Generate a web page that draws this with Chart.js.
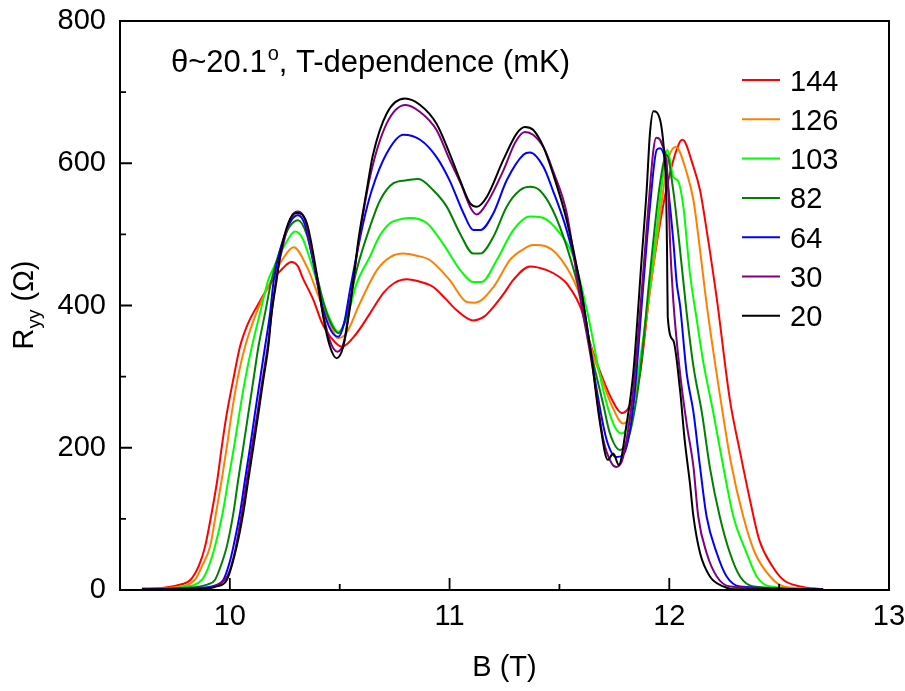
<!DOCTYPE html>
<html><head><meta charset="utf-8">
<script src="https://cdn.jsdelivr.net/npm/chart.js@4.4.1/dist/chart.umd.min.js"></script>
<style>html,body{margin:0;padding:0;background:#fff;}#wrap{width:905px;height:691px;}</style>
</head><body><div id="wrap"><canvas id="c" width="905" height="691"></canvas></div>
<script>
// ---- data (B in T, Ryy in ohm) ----
const temps = ['144','126','103','82','64','30','20'];
const colors = ['#ff0000','#ff8000','#00ff00','#008000','#0000ff','#800080','#000000'];
const xTicks = [10, 11, 12, 13];
const xMinorTicks = [10.5, 11.5, 12.5];
const yTicks = [0, 200, 400, 600, 800];
const yMinorTicks = [100, 300, 500, 700];

const t144 = [[9.60,2],[9.70,3],[9.78,8],[9.82,14],[9.86,35],[9.887,61],[9.917,108],[9.943,155],[9.963,201],[9.986,248],[10.015,295],[10.046,342],[10.083,375],[10.122,398],[10.196,436],[10.24,452],[10.28,461],[10.31,455],[10.33,440],[10.38,408],[10.42,375],[10.46,355],[10.51,342],[10.577,361],[10.638,389],[10.70,418],[10.75,432],[10.805,437],[10.87,433],[10.926,426],[10.98,410],[11.03,394],[11.108,379],[11.16,385],[11.20,398],[11.25,418],[11.29,436],[11.366,455],[11.44,450],[11.50,440],[11.533,431],[11.60,394],[11.64,347],[11.70,295],[11.74,267],[11.783,249],[11.814,256],[11.867,305],[11.912,422],[11.958,516],[12.003,586],[12.048,630],[12.06,633],[12.11,595],[12.14,562],[12.17,506],[12.216,410],[12.276,267],[12.32,197],[12.367,127],[12.41,70],[12.47,33],[12.52,14],[12.595,5],[12.70,1]];
const t126 = [[9.60,1],[9.75,4],[9.84,14],[9.875,35],[9.91,61],[9.937,108],[9.963,155],[9.986,201],[10.008,248],[10.034,295],[10.069,342],[10.12,389],[10.19,436],[10.24,465],[10.29,482],[10.35,455],[10.41,408],[10.456,375],[10.49,354],[10.53,361],[10.59,402],[10.67,450],[10.73,468],[10.79,473],[10.85,470],[10.91,464],[11.0,436],[11.078,405],[11.116,404],[11.2,426],[11.275,464],[11.33,478],[11.38,485],[11.44,483],[11.53,455],[11.594,412],[11.64,345],[11.70,290],[11.74,258],[11.79,234],[11.82,244],[11.86,300],[11.897,384],[11.943,492],[11.995,605],[12.03,623],[12.08,586],[12.11,548],[12.14,478],[12.17,402],[12.23,275],[12.28,180],[12.337,103],[12.39,52],[12.459,19],[12.52,5],[12.70,1]];
const t103 = [[9.60,1],[9.78,4],[9.872,14],[9.90,30],[9.932,61],[9.967,108],[9.993,155],[10.019,201],[10.043,248],[10.069,295],[10.10,342],[10.137,389],[10.175,436],[10.198,452],[10.25,485],[10.297,504],[10.33,495],[10.37,460],[10.41,420],[10.45,385],[10.494,363],[10.53,380],[10.577,431],[10.638,469],[10.68,497],[10.73,516],[10.76,520],[10.82,523],[10.896,516],[10.97,487],[11.048,450],[11.108,433],[11.146,433],[11.215,464],[11.29,506],[11.366,525],[11.427,523],[11.503,501],[11.563,469],[11.624,395],[11.70,280],[11.745,234],[11.783,220],[11.82,239],[11.85,290],[11.88,351],[11.928,469],[11.973,586],[11.991,619],[12.018,581],[12.04,575],[12.064,539],[12.094,445],[12.125,380],[12.155,320],[12.20,250],[12.246,173],[12.292,103],[12.352,52],[12.398,19],[12.459,5],[12.70,1]];
const t82 = [[9.60,1],[9.80,3],[9.90,8],[9.932,14],[9.96,35],[9.986,61],[10.016,108],[10.038,155],[10.061,201],[10.084,248],[10.107,295],[10.13,342],[10.16,389],[10.19,436],[10.23,480],[10.27,510],[10.31,520],[10.35,500],[10.39,450],[10.43,400],[10.46,375],[10.494,361],[10.53,385],[10.577,450],[10.638,511],[10.684,548],[10.745,572],[10.805,576],[10.858,578],[10.926,562],[10.987,539],[11.048,501],[11.108,473],[11.139,473],[11.20,497],[11.26,539],[11.32,562],[11.366,567],[11.41,562],[11.47,534],[11.533,483],[11.594,415],[11.64,340],[11.70,260],[11.73,220],[11.776,197],[11.82,220],[11.867,305],[11.912,445],[11.958,572],[11.988,612],[12.018,562],[12.049,478],[12.079,390],[12.11,314],[12.148,250],[12.186,170],[12.23,103],[12.276,52],[12.322,19],[12.383,5],[12.70,1]];
const t64 = [[9.60,1],[9.85,3],[9.93,6],[9.97,14],[10.0,40],[10.016,61],[10.046,108],[10.069,155],[10.092,201],[10.114,248],[10.137,295],[10.16,342],[10.183,389],[10.20,436],[10.24,490],[10.28,520],[10.31,527],[10.34,515],[10.38,460],[10.42,400],[10.46,365],[10.494,356],[10.52,375],[10.547,422],[10.607,516],[10.646,562],[10.714,614],[10.79,640],[10.866,633],[10.94,609],[11.0,576],[11.063,530],[11.108,506],[11.14,506],[11.20,530],[11.26,576],[11.336,612],[11.366,615],[11.427,595],[11.47,562],[11.533,506],[11.594,430],[11.67,281],[11.715,211],[11.76,187],[11.79,190],[11.836,258],[11.88,422],[11.912,539],[11.943,619],[11.958,621],[11.98,605],[11.996,562],[12.018,492],[12.034,431],[12.049,400],[12.079,305],[12.11,250],[12.14,173],[12.17,103],[12.216,52],[12.261,19],[12.322,5],[12.70,1]];
const t30 = [[9.60,1],[9.85,2],[9.92,4],[9.96,10],[9.99,20],[10.02,50],[10.05,100],[10.075,150],[10.10,200],[10.125,248],[10.148,295],[10.172,342],[10.19,389],[10.21,436],[10.25,495],[10.28,525],[10.31,532],[10.34,522],[10.38,465],[10.42,395],[10.456,350],[10.49,335],[10.52,350],[10.55,410],[10.59,497],[10.638,581],[10.714,656],[10.80,682],[10.866,672],[10.94,647],[11.0,605],[11.05,572],[11.10,535],[11.124,528],[11.17,544],[11.245,590],[11.30,630],[11.343,644],[11.38,640],[11.43,621],[11.47,590],[11.533,530],[11.594,412],[11.655,305],[11.70,211],[11.738,178],[11.76,173],[11.79,187],[11.836,281],[11.875,422],[11.905,539],[11.928,619],[11.94,636],[11.965,628],[11.996,562],[12.003,492],[12.018,408],[12.049,305],[12.079,234],[12.11,173],[12.132,103],[12.17,52],[12.216,19],[12.276,5],[12.70,1]];
const t20 = [[9.60,1],[9.85,1],[9.90,2],[9.94,5],[9.986,14],[10.031,61],[10.061,108],[10.084,155],[10.107,201],[10.13,248],[10.152,295],[10.175,342],[10.19,389],[10.213,436],[10.228,469],[10.266,516],[10.304,530],[10.35,516],[10.395,445],[10.425,384],[10.456,342],[10.486,326],[10.516,342],[10.547,398],[10.585,492],[10.623,562],[10.65,610],[10.714,670],[10.797,691],[10.866,682],[10.94,656],[11.0,614],[11.048,576],[11.093,544],[11.124,539],[11.17,553],[11.245,605],[11.306,642],[11.343,651],[11.38,647],[11.427,623],[11.47,586],[11.533,520],[11.594,430],[11.64,340],[11.685,234],[11.72,183],[11.745,192],[11.77,176],[11.806,234],[11.836,305],[11.875,469],[11.897,562],[11.912,642],[11.928,673],[11.958,661],[11.978,609],[11.986,560],[11.99,470],[11.993,384],[12.018,351],[12.049,281],[12.07,211],[12.094,150],[12.11,103],[12.14,52],[12.185,19],[12.246,5],[12.30,1],[12.70,1]];

const series = [t144, t126, t103, t82, t64, t30, t20];

const FONT = '"Liberation Sans", Arial, sans-serif';
Chart.defaults.font.family = FONT;
Chart.defaults.color = '#000';

const decor = {
  id: 'decor',
  afterDraw(chart) {
    const {ctx, chartArea: a, scales: {x, y}} = chart;
    ctx.save();
    // frame
    ctx.strokeStyle = '#000';
    ctx.lineWidth = 2;
    ctx.strokeRect(a.left, a.top, a.right - a.left, a.bottom - a.top);
    // inward ticks
    ctx.lineWidth = 1.8;
    ctx.beginPath();
    xTicks.forEach(v => { const p = x.getPixelForValue(v); ctx.moveTo(p, a.bottom); ctx.lineTo(p, a.bottom - 12); });
    xMinorTicks.forEach(v => { const p = x.getPixelForValue(v); ctx.moveTo(p, a.bottom); ctx.lineTo(p, a.bottom - 6); });
    yTicks.forEach(v => { const p = y.getPixelForValue(v); ctx.moveTo(a.left, p); ctx.lineTo(a.left + 12, p); });
    yMinorTicks.forEach(v => { const p = y.getPixelForValue(v); ctx.moveTo(a.left, p); ctx.lineTo(a.left + 6, p); });
    ctx.stroke();

    // in-plot title
    ctx.fillStyle = '#000';
    ctx.textAlign = 'left';
    ctx.textBaseline = 'alphabetic';
    let tx = 171, ty = 72;
    ctx.font = '31px ' + FONT;
    ctx.fillText('θ~20.1', tx, ty);
    tx += ctx.measureText('θ~20.1').width + 1;
    ctx.font = '20px ' + FONT;
    ctx.fillText('o', tx, ty - 12);
    tx += ctx.measureText('o').width;
    ctx.font = '31px ' + FONT;
    ctx.fillText(', T-dependence (mK)', tx, ty);

    // y-axis title with subscript, rotated
    ctx.save();
    ctx.translate(33, 305);
    ctx.rotate(-Math.PI / 2);
    ctx.font = '29px ' + FONT;
    const wR = ctx.measureText('R').width;
    const wP = ctx.measureText(' (Ω)').width;
    ctx.font = '19px ' + FONT;
    const wS = ctx.measureText('yy').width;
    let sx = -(wR + wS + wP) / 2;
    ctx.font = '29px ' + FONT;
    ctx.fillText('R', sx, 0); sx += wR;
    ctx.font = '19px ' + FONT;
    ctx.fillText('yy', sx, 7); sx += wS;
    ctx.font = '29px ' + FONT;
    ctx.fillText(' (Ω)', sx, 0);
    ctx.restore();

    // legend
    ctx.font = '29px ' + FONT;
    chart.data.datasets.forEach((ds, i) => {
      const yy = 80 + i * 39.3;
      ctx.strokeStyle = ds.borderColor;
      ctx.lineWidth = 2;
      ctx.beginPath(); ctx.moveTo(742, yy); ctx.lineTo(780, yy); ctx.stroke();
      ctx.fillStyle = '#000';
      ctx.fillText(ds.label, 790, yy + 10.5);
    });
    ctx.restore();
  }
};

new Chart(document.getElementById('c'), {
  type: 'line',
  data: {
    datasets: series.map((s, i) => ({
      label: temps[i],
      data: s.map(([b, r]) => ({x: b, y: r})),
      borderColor: colors[i],
      backgroundColor: colors[i],
      borderWidth: 2,
      pointRadius: 0,
      cubicInterpolationMode: 'monotone',
      fill: false,
      order: series.length - 1 - i
    }))
  },
  options: {
    responsive: false,
    animation: false,
    events: [],
    layout: {padding: {left: 0, right: 16, top: 21, bottom: 0}},
    plugins: {legend: {display: false}, tooltip: {enabled: false}},
    scales: {
      x: {
        type: 'linear', min: 9.5, max: 13,
        afterBuildTicks: s => { s.ticks = xTicks.map(v => ({value: v})); },
        afterFit: s => { s.height = 101; s.paddingLeft = 0; s.paddingRight = 0; },
        grid: {display: false, drawTicks: false},
        border: {display: false},
        ticks: {padding: 10, color: '#000', font: {size: 29}, callback: v => String(v)},
        title: {display: true, text: 'B (T)', color: '#000', font: {size: 29}, padding: {top: 0, bottom: 6}}
      },
      y: {
        type: 'linear', min: 0, max: 800,
        afterBuildTicks: s => { s.ticks = yTicks.map(v => ({value: v})); },
        afterFit: s => { s.width = 120; s.paddingTop = 0; s.paddingBottom = 0; },
        grid: {display: false, drawTicks: false},
        border: {display: false},
        ticks: {padding: 14, color: '#000', font: {size: 29}, callback: v => String(v)}
      }
    }
  },
  plugins: [decor]
});
</script>
</body></html>
